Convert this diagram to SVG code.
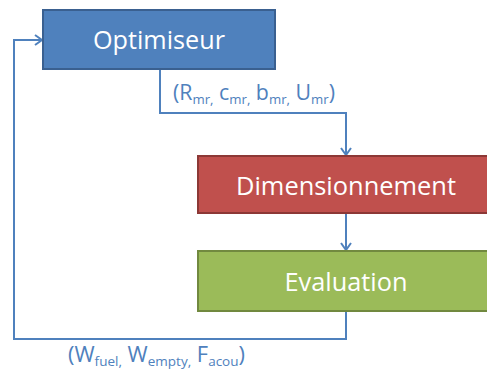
<svg xmlns="http://www.w3.org/2000/svg" width="487" height="369" viewBox="0 0 487 369">
<defs>
<marker id="arr" markerWidth="12" markerHeight="12" refX="9" refY="6" orient="auto" markerUnits="userSpaceOnUse">
<path d="M2,1 L9,6 L2,11" fill="none" stroke="#4f81bd" stroke-width="2"/>
</marker>
<style>
.box{stroke-width:2}
.lbl{font-family:"Open Sans","Liberation Sans",sans-serif;font-size:25px;fill:#ffffff;text-anchor:middle}
.edge{fill:none;stroke:#4f81bd;stroke-width:2}
.el{font-family:"Open Sans","Liberation Sans",sans-serif;font-size:21px;fill:#4f81bd}
.sub{font-size:13px}
</style>
</defs>
<rect width="487" height="369" fill="#ffffff"/>
<g id="connectors">
<path class="edge" d="M160,69 V113 H346 V155" marker-end="url(#arr)"/>
<path class="edge" d="M346,213 V250" marker-end="url(#arr)"/>
<path class="edge" d="M346,311 V339 H14 V40 H42" marker-end="url(#arr)"/>
<text class="el" x="173" y="100" textLength="162" lengthAdjust="spacingAndGlyphs">(R<tspan class="sub" dy="4">mr,</tspan><tspan dy="-4"> c</tspan><tspan class="sub" dy="4">mr,</tspan><tspan dy="-4"> b</tspan><tspan class="sub" dy="4">mr,</tspan><tspan dy="-4"> U</tspan><tspan class="sub" dy="4">mr</tspan><tspan dy="-4">)</tspan></text>
<text class="el" x="68" y="362" textLength="177" lengthAdjust="spacingAndGlyphs">(W<tspan class="sub" dy="4">fuel,</tspan><tspan dy="-4"> W</tspan><tspan class="sub" dy="4">empty,</tspan><tspan dy="-4"> F</tspan><tspan class="sub" dy="4">acou</tspan><tspan dy="-4">)</tspan></text>
</g>
<g id="optimiseur">
<rect class="box" x="43" y="10" width="232" height="59" fill="#4f81bd" stroke="#3a6090"/>
<text class="lbl" x="159" y="49" textLength="132" lengthAdjust="spacingAndGlyphs">Optimiseur</text>
</g>
<g id="dimensionnement">
<rect class="box" x="198" y="156" width="300" height="57" fill="#c0504d" stroke="#8c3836"/>
<text class="lbl" x="346" y="195" textLength="220" lengthAdjust="spacingAndGlyphs">Dimensionnement</text>
</g>
<g id="evaluation">
<rect class="box" x="198" y="251" width="300" height="60" fill="#9bbb59" stroke="#71893f"/>
<text class="lbl" x="346" y="291" textLength="123" lengthAdjust="spacingAndGlyphs">Evaluation</text>
</g>
</svg>
